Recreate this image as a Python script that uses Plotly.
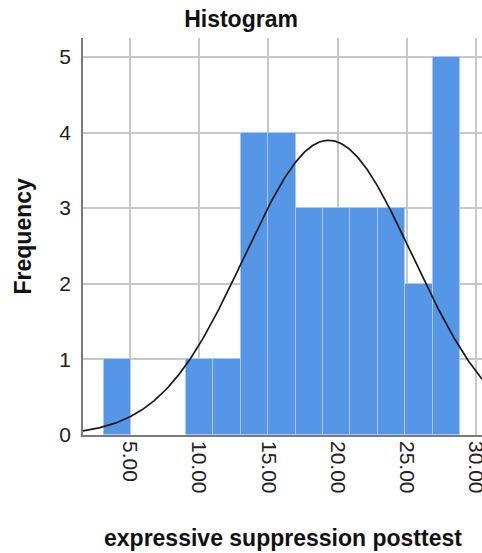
import numpy as np
import plotly.graph_objects as go

# Frequency histogram of expressive suppression posttest scores (N = 30)
bin_start = 3.1
bin_width = 1.98
counts = [1, 0, 0, 1, 1, 4, 4, 3, 3, 3, 3, 2, 5]

# Fitted normal curve parameters
mean_score = 19.35
sd_score = 6.08

x_ticks = [5, 10, 15, 20, 25, 30]
x_tick_labels = ["5.00", "10.00", "15.00", "20.00", "25.00", "30.00"]
y_ticks = [0, 1, 2, 3, 4, 5]

n_total = sum(counts)
centers = [bin_start + bin_width * (i + 0.5) for i in range(len(counts))]
# empty bins get no outline so nothing is drawn along the baseline
outline_widths = [1 if c > 0 else 0 for c in counts]

x_min, x_max = 1.6, 30.43
xs = np.linspace(x_min, x_max, 400)
curve = n_total * bin_width / (sd_score * np.sqrt(2 * np.pi)) * np.exp(-0.5 * ((xs - mean_score) / sd_score) ** 2)

W, H = 482, 553
M_L, M_R, M_T, M_B = 83, 0, 38, 118

fig = go.Figure()
fig.add_trace(go.Bar(
    x=centers,
    y=counts,
    width=bin_width,
    marker=dict(color="#5596e6", line=dict(color="#a9c9f2", width=outline_widths)),
    hoverinfo="x+y",
))
fig.add_trace(go.Scatter(
    x=xs,
    y=curve,
    mode="lines",
    line=dict(color="#1a1a1a", width=1.7),
    hoverinfo="skip",
))

font_family = "Liberation Sans, Arial, sans-serif"
title_font = dict(size=23, color="#111111", family=font_family)

plot_h = H - M_T - M_B
fig.update_layout(
    width=W,
    height=H,
    margin=dict(l=M_L, r=M_R, t=M_T, b=M_B),
    paper_bgcolor="white",
    plot_bgcolor="white",
    showlegend=False,
    bargap=0,
    font=dict(family=font_family, color="#222222"),
    title=dict(
        text="<b>Histogram</b>",
        x=0.5,
        xref="container",
        xanchor="center",
        y=1 - 19 / H,
        yref="container",
        yanchor="middle",
        font=title_font,
    ),
    xaxis=dict(
        range=[x_min, x_max],
        tickmode="array",
        tickvals=x_ticks,
        ticktext=x_tick_labels,
        tickangle=90,
        tickfont=dict(size=21, color="#222222"),
        ticklabeloverflow="allow",
        ticks="",
        ticklen=0,
        showgrid=True,
        gridcolor="#c8c8c8",
        gridwidth=1.5,
        showline=True,
        linecolor="#7a7a7a",
        linewidth=1.5,
        zeroline=False,
        automargin=False,
    ),
    yaxis=dict(
        range=[0, 5.25],
        tickmode="array",
        tickvals=y_ticks,
        tickfont=dict(size=21, color="#222222"),
        ticklabelstandoff=6,
        ticks="",
        showgrid=True,
        gridcolor="#c8c8c8",
        gridwidth=1.5,
        showline=True,
        linecolor="#7a7a7a",
        linewidth=1.5,
        zeroline=False,
        automargin=False,
    ),
    annotations=[
        dict(
            text="<b>expressive suppression posttest</b>",
            xref="paper", yref="paper",
            x=0.5, y=-(538 - (H - M_B)) / plot_h,
            xanchor="center", yanchor="middle",
            showarrow=False,
            font=title_font,
        ),
        dict(
            text="<b>Frequency</b>",
            xref="paper", yref="paper",
            x=-(M_L - 22) / (W - M_L - M_R), y=0.5,
            xanchor="center", yanchor="middle",
            textangle=-90,
            showarrow=False,
            font=title_font,
        ),
    ],
)

fig.write_html("out.html")
